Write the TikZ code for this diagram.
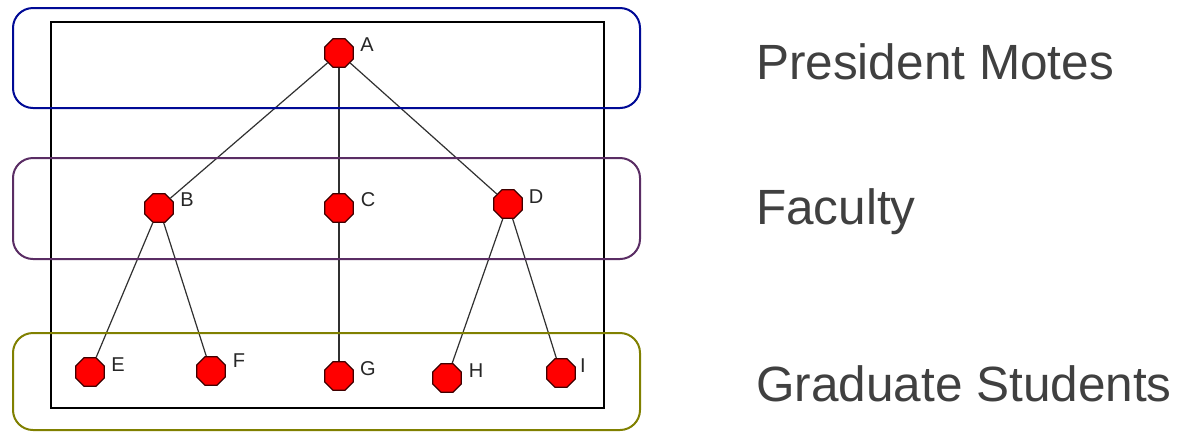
\documentclass[tikz,border=0pt]{standalone}
\usepackage{fontspec}
\setmainfont{Liberation Sans}
\usetikzlibrary{shapes.geometric}
\definecolor{bandblue}{HTML}{000A96}
\definecolor{bandpurple}{HTML}{5A2D64}
\definecolor{bandolive}{HTML}{808000}
\definecolor{txtgray}{HTML}{404040}
\definecolor{edgegray}{HTML}{303030}
\begin{document}
\begin{tikzpicture}[x=1pt,y=-1pt,
  vert/.style={regular polygon,regular polygon sides=8,minimum size=31pt,inner sep=0pt,fill=red,draw=black!75!red,line width=1.2pt},
  lbl/.style={font=\fontsize{20}{22}\selectfont,text=black!85,inner sep=0pt},
  band/.style={rounded corners=20pt,line width=2pt},
  edge/.style={draw=edgegray,line width=1.2pt},
  title/.style={font=\fontsize{49.5}{59}\selectfont,text=txtgray,anchor=west,inner sep=0pt}]
\useasboundingbox (0,0) rectangle (1180,432);
\fill[white] (0,0) rectangle (1180,432);
\draw[line width=2pt,black] (51,22) rectangle (604,408);
\node[vert] (A) at (339,53) {};
\node[vert] (B) at (159,208) {};
\node[vert] (C) at (339,208) {};
\node[vert] (D) at (508,204) {};
\node[vert] (E) at (90,372) {};
\node[vert] (F) at (211,371) {};
\node[vert] (G) at (339,376) {};
\node[vert] (H) at (447,378) {};
\node[vert] (I) at (561,373) {};
\path[edge] (A) -- (B);
\path[edge] (A) -- (C);
\path[edge] (A) -- (D);
\path[edge] (B) -- (E);
\path[edge] (B) -- (F);
\path[edge] (C) -- (G);
\path[edge] (D) -- (H);
\path[edge] (D) -- (I);
\node[lbl] (lA) at (367,45) {A};
\node[lbl] (lB) at (187,200) {B};
\node[lbl] (lC) at (368,200) {C};
\node[lbl] (lD) at (536,197) {D};
\node[lbl] (lE) at (118,365) {E};
\node[lbl] (lF) at (239,361) {F};
\node[lbl] (lG) at (368,369) {G};
\node[lbl] (lH) at (476,371) {H};
\node[lbl] (lI) at (583,366) {I};
\draw[band,bandblue] (13,8) rectangle (640,108);
\draw[band,bandpurple] (13,158) rectangle (640,259);
\draw[band,bandolive] (13,333) rectangle (640,430);
\node[title] (t1) at (756,62) {President Motes};
\node[title] (t2) at (756,212) {Faculty};
\node[title] (t3) at (756,384) {Graduate Students};
\end{tikzpicture}
\end{document}
